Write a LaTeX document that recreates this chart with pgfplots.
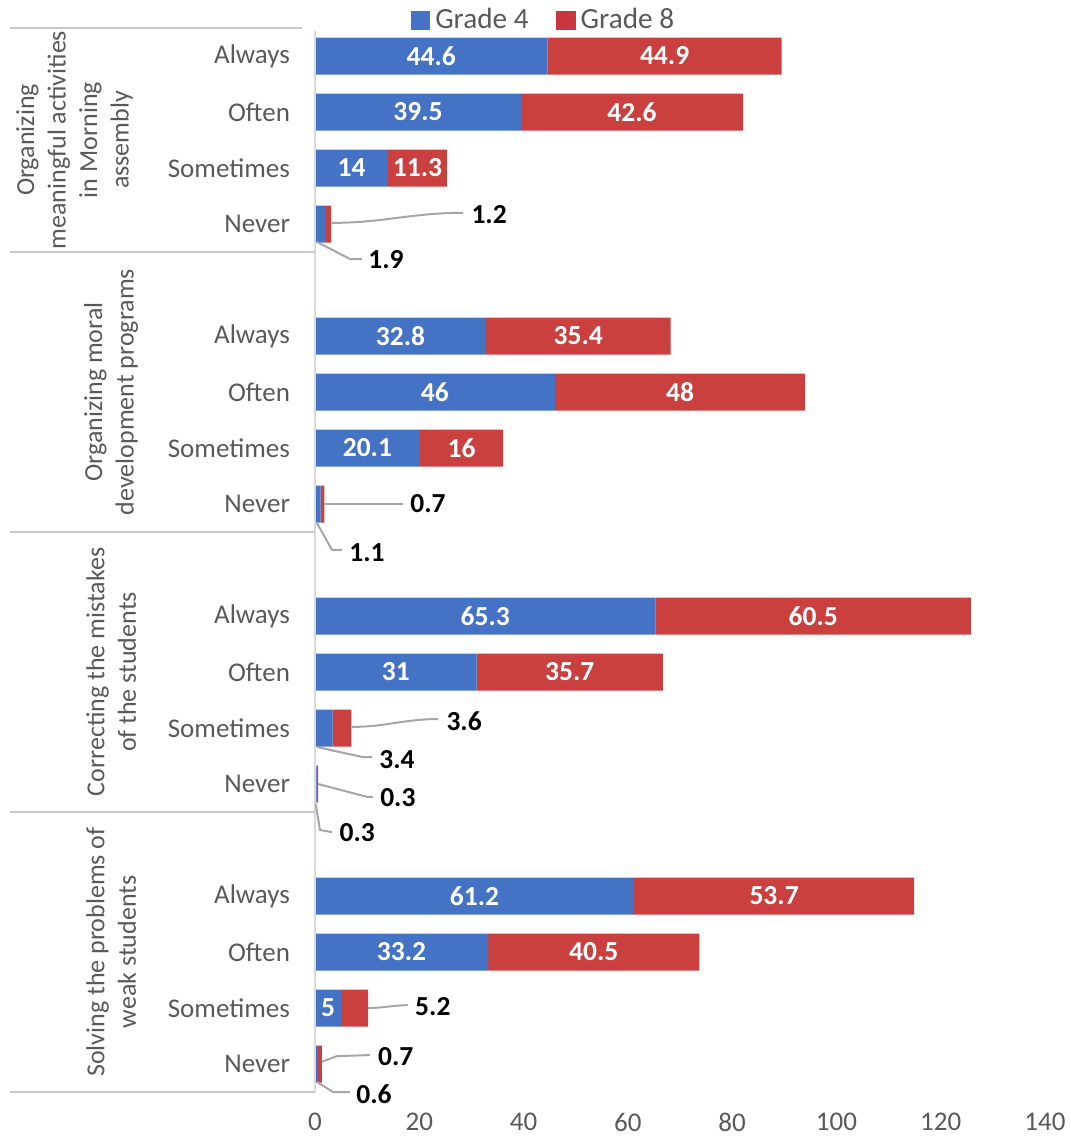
\documentclass[border=0pt]{standalone}
\usepackage{fontspec}
\setmainfont{Carlito}
\usepackage{pgfplots}
\usepackage{pgfplotstable}
\pgfplotsset{compat=1.18}
\definecolor{gblue}{HTML}{4472C4}
\definecolor{gred}{HTML}{C9403F}
\definecolor{lgray}{HTML}{595959}
\definecolor{sepgray}{HTML}{C8C8C8}
\definecolor{leadgray}{HTML}{A6A6A6}
\pgfplotstableread{
y g4 g8
0 44.6 44.9
1 39.5 42.6
2 14 11.3
3 1.9 1.2
5 32.8 35.4
6 46 48
7 20.1 16
8 1.1 0.7
10 65.3 60.5
11 31 35.7
12 3.4 3.6
13 0.3 0.3
15 61.2 53.7
16 33.2 40.5
17 5 5.2
18 0.6 0.7
}\datatable
\begin{document}
\begin{tikzpicture}[
  inlab/.style={font=\fontsize{11}{13}\selectfont\bfseries, text=white},
  outlab/.style={font=\fontsize{11}{13}\selectfont\bfseries, text=black},
  lead/.style={draw=leadgray, line width=0.8pt},
  sep/.style={draw=sepgray, line width=0.8pt},
  grp/.style={rotate=90, align=center, text=lgray, font=\fontsize{10.4}{12.6}\selectfont}
]
\pgfplotsset{common/.style={
  scale only axis, width=292pt, height=425.6pt,
  at={(0,0)}, anchor=south west,
  xmin=0, xmax=140, ymin=-0.5, ymax=18.5,
  y dir=reverse, clip=false}}
\begin{axis}[
  common,
  xbar stacked, bar width=14.8pt,
  axis line style={draw=none},
  major tick length=0pt,
  xtick={0,20,...,140},
  ytick={0,1,2,3,5,6,7,8,10,11,12,13,15,16,17,18},
  yticklabels={Always,Often,Sometimes,Never,Always,Often,Sometimes,Never,Always,Often,Sometimes,Never,Always,Often,Sometimes,Never},
  /pgf/number format/assume math mode=true,
  tick label style={font=\fontsize{10.8}{12}\selectfont, text=lgray},
  yticklabel style={xshift=-6.5pt},
  xticklabel style={yshift=-5pt},
  legend style={at={(0.315,1.0075)}, anchor=center, legend columns=2, draw=none, fill=none,
    font=\fontsize{11.7}{13}\selectfont, text=lgray,
    /tikz/every even column/.append style={column sep=9pt},
    inner sep=0pt},
]
\addplot[fill=gblue, draw=none, legend image code/.code={\fill[gblue] (-0.5pt,-3.8pt) rectangle (7.3pt,3.8pt);}] table[x=g4, y=y] {\datatable};
\addplot[fill=gred, draw=none, legend image code/.code={\fill[gred!85!purple] (-0.5pt,-3.8pt) rectangle (7.3pt,3.8pt);}] table[x=g8, y=y] {\datatable};
\legend{Grade 4, Grade 8}
\end{axis}
\begin{axis}[common, hide axis]
\draw[draw=sepgray!70, line width=0.7pt] (axis cs:0,-0.45) -- (axis cs:0,18.5);
\draw[sep] (axis cs:-58.5,-0.5) -- (axis cs:-2.5,-0.5);
\draw[sep] (axis cs:-58.5,3.5) -- (axis cs:0,3.5);
\draw[sep] (axis cs:-58.5,8.5) -- (axis cs:0,8.5);
\draw[sep] (axis cs:-58.5,13.5) -- (axis cs:0,13.5);
\draw[sep] (axis cs:-58.5,18.5) -- (axis cs:0,18.5);
\node[grp] at (axis cs:-46.1,1.5) {Organizing\\meaningful activities\\in Morning\\assembly};
\node[grp] at (axis cs:-39.1,6) {Organizing moral\\development programs};
\node[grp] at (axis cs:-39.1,11) {Correcting the mistakes\\of the students};
\node[grp] at (axis cs:-39.1,16) {Solving the problems of\\weak students};
\node[inlab] at (axis cs:22.3,0) {44.6};
\node[inlab] at (axis cs:67.05,0) {44.9};
\node[inlab] at (axis cs:19.75,1) {39.5};
\node[inlab] at (axis cs:60.8,1) {42.6};
\node[inlab] at (axis cs:7,2) {14};
\node[inlab] at (axis cs:19.65,2) {11.3};
\node[inlab] at (axis cs:16.4,5) {32.8};
\node[inlab] at (axis cs:50.5,5) {35.4};
\node[inlab] at (axis cs:23,6) {46};
\node[inlab] at (axis cs:70,6) {48};
\node[inlab] at (axis cs:10.05,7) {20.1};
\node[inlab] at (axis cs:28.1,7) {16};
\node[inlab] at (axis cs:32.65,10) {65.3};
\node[inlab] at (axis cs:95.55,10) {60.5};
\node[inlab] at (axis cs:15.5,11) {31};
\node[inlab] at (axis cs:48.85,11) {35.7};
\node[inlab] at (axis cs:30.6,15) {61.2};
\node[inlab] at (axis cs:88.05,15) {53.7};
\node[inlab] at (axis cs:16.6,16) {33.2};
\node[inlab] at (axis cs:53.45,16) {40.5};
\node[inlab] at (axis cs:2.5,17) {5};
\draw[lead] (axis cs:3.2,2.98) to[out=0,in=180] (axis cs:28.4,2.80);
\node[outlab] at (axis cs:33.4,2.84) {1.2};
\draw[lead] (axis cs:0.38,3.32) -- (axis cs:6.71,3.625) -- (axis cs:9.01,3.625);
\node[outlab] at (axis cs:13.62,3.64) {1.9};
\draw[lead] (axis cs:1.8,8.0) -- (axis cs:16.88,8.0);
\node[outlab] at (axis cs:21.67,8.0) {0.7};
\draw[lead] (axis cs:0.38,8.34) -- (axis cs:3.26,8.82) -- (axis cs:5.18,8.82);
\node[outlab] at (axis cs:9.97,8.875) {1.1};
\draw[lead] (axis cs:7.1,11.98) to[out=0,in=180] (axis cs:23.59,11.84);
\node[outlab] at (axis cs:28.6,11.875) {3.6};
\draw[lead] (axis cs:0.38,12.34) -- (axis cs:9.2,12.52) -- (axis cs:10.93,12.52);
\node[outlab] at (axis cs:15.73,12.57) {3.4};
\draw[lead] (axis cs:0.6,13.0) -- (axis cs:10.0,13.23) -- (axis cs:11.1,13.23);
\node[outlab] at (axis cs:15.9,13.25) {0.3};
\draw[lead] (axis cs:0.15,13.36) -- (axis cs:0.96,13.82) -- (axis cs:3.26,13.86);
\node[outlab] at (axis cs:8.1,13.875) {0.3};
\draw[lead] (axis cs:10.2,17.0) to[out=0,in=180] (axis cs:17.84,16.95);
\node[outlab] at (axis cs:22.6,16.98) {5.2};
\draw[lead] (axis cs:1.3,17.96) -- (axis cs:4.2,17.86) -- (axis cs:10.55,17.84);
\node[outlab] at (axis cs:15.5,17.875) {0.7};
\draw[lead] (axis cs:0.38,18.32) -- (axis cs:3.45,18.5) -- (axis cs:6.71,18.5);
\node[outlab] at (axis cs:11.3,18.54) {0.6};
\end{axis}
\pgfresetboundingbox
\path (-126pt,-18.4pt) rectangle (302.4pt,436.8pt);
\end{tikzpicture}
\end{document}
